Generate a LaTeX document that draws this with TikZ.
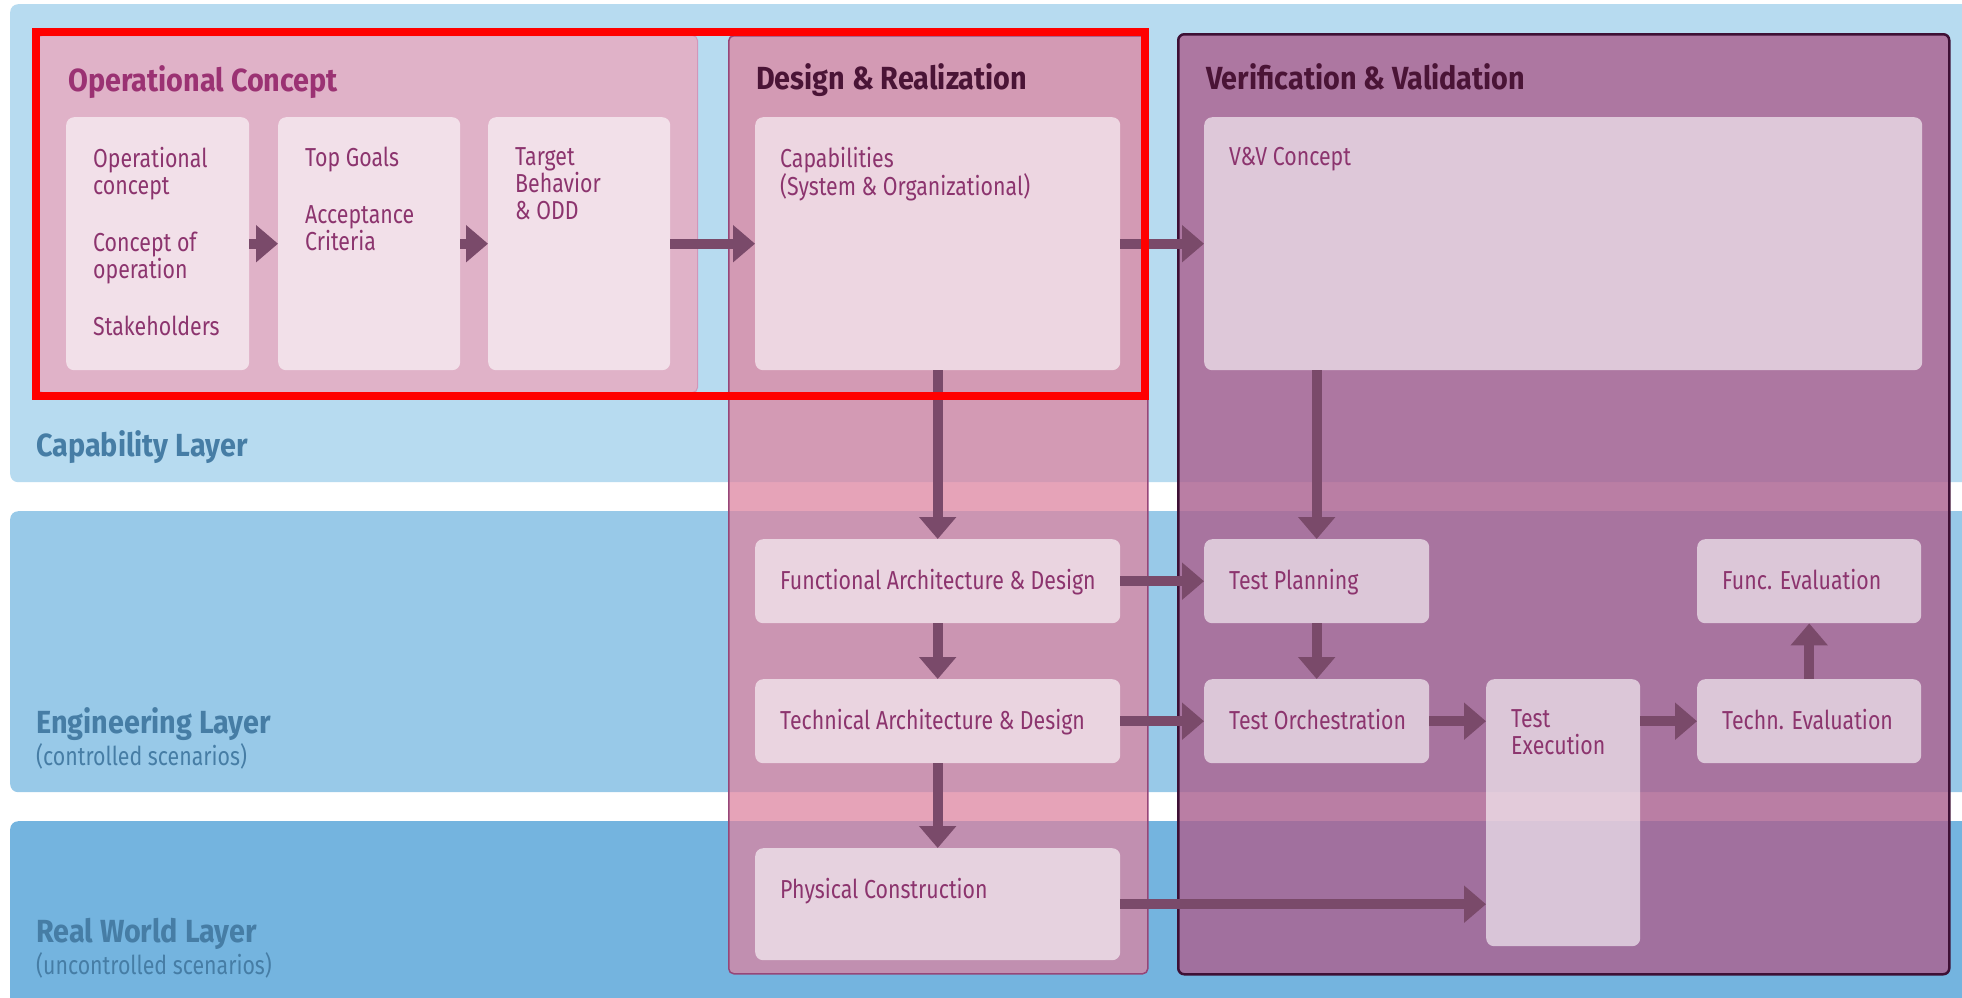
\documentclass[tikz,border=0pt]{standalone}
\usepackage{fontspec}
\setmainfont{Fira Sans}[FakeStretch=0.82, BoldFeatures={FakeStretch=0.9}]
\usepackage{tikz}
\usetikzlibrary{arrows.meta, positioning}
\definecolor{caplayer}{RGB}{183,219,240}
\definecolor{englayer}{RGB}{152,201,232}
\definecolor{reallayer}{RGB}{116,180,223}
\definecolor{layertext}{RGB}{70,125,165}
\definecolor{opfill}{RGB}{224,178,200}
\definecolor{opline}{RGB}{210,150,185}
\definecolor{designfill}{RGB}{222,130,159}
\definecolor{designline}{RGB}{150,70,120}
\definecolor{vvfill}{RGB}{172,98,144}
\definecolor{vvline}{RGB}{62,16,53}
\definecolor{boxtext}{RGB}{140,52,110}
\definecolor{optitle}{RGB}{155,50,115}
\definecolor{darktitle}{RGB}{74,20,54}
\definecolor{arrowcol}{RGB}{122,74,106}
\definecolor{markred}{RGB}{255,0,0}

\begin{document}
\begin{tikzpicture}[
    x=1pt, y=-1pt,
    layerband/.style={rectangle, rounded corners=8pt, inner sep=0pt, anchor=north west},
    layertitle/.style={anchor=base west, inner sep=0pt, text=layertext, font=\fontsize{32}{36}\selectfont\bfseries},
    layersub/.style={anchor=base west, inner sep=0pt, text=layertext, font=\fontsize{26}{28}\selectfont},
    panel/.style={rectangle, inner sep=0pt, anchor=north west},
    paneltitle/.style={inner sep=0pt, font=\fontsize{32}{35}\selectfont\bfseries},
    stepbox/.style={rectangle, rounded corners=8pt, fill=white, fill opacity=0.6, inner sep=0pt, anchor=north west},
    boxlabel/.style={inner sep=0pt, align=left, text=boxtext, font=\fontsize{26}{27}\selectfont},
    flow/.style={draw=arrowcol, line width=10pt, -{Triangle[length=22pt, width=36pt, fill=arrowcol]}}
]
\useasboundingbox (0,0) rectangle (1962,997);
\clip (0,0) rectangle (1962,997);
\fill[white] (0,0) rectangle (1962,997);

% Layers
\node[layerband, fill=caplayer, minimum width=1980pt, minimum height=478pt] (capband) at (10,4) {};
\node[layerband, fill=englayer, minimum width=1980pt, minimum height=281pt] (engband) at (10,511) {};
\node[layerband, fill=reallayer, minimum width=1980pt, minimum height=200pt] (realband) at (10,821) {};

\node[layertitle] (caplabel) at (36,456) {Capability Layer};
\node[layertitle] (englabel) at (36,733) {Engineering Layer};
\node[layersub] (engsub) at (36,765) {(controlled scenarios)};
\node[layertitle] (reallabel) at (36,942) {Real World Layer};
\node[layersub] (realsub) at (36,974) {(uncontrolled scenarios)};

% Columns
\node[panel, fill=opfill, draw=opline, line width=1pt, rounded corners=5pt, minimum width=660pt, minimum height=357pt] (oppanel) at (37,35) {};
\node[panel, fill=designfill, fill opacity=0.73, draw=designline, line width=1.5pt, rounded corners=5pt, minimum width=419pt, minimum height=938pt] (despanel) at (728,35) {};
\node[panel, fill=vvfill, fill opacity=0.82, draw=vvline, line width=2.5pt, rounded corners=6pt, minimum width=771pt, minimum height=940pt] (vvpanel) at (1177,33) {};

\node[paneltitle, text=optitle, below right=30pt and 31pt of oppanel.north west] (optitle) {Operational Concept};
\node[paneltitle, text=darktitle, below right=28pt and 28pt of despanel.north west] (destitle) {Design \& Realization};
\node[paneltitle, text=darktitle, below right=30pt and 29pt of vvpanel.north west] (vvtitle) {Verification \& Validation};

% Capability boxes
\node[stepbox, minimum width=183pt, minimum height=253pt] (ob1) at (66,117) {};
\node[stepbox, minimum width=182pt, minimum height=253pt] (ob2) at (278,117) {};
\node[stepbox, minimum width=182pt, minimum height=253pt] (ob3) at (488,117) {};
\node[stepbox, minimum width=365pt, minimum height=253pt] (cap) at (755,117) {};
\node[stepbox, minimum width=718pt, minimum height=253pt] (vvc) at (1204,117) {};

% Engineering and real world boxes
\node[stepbox, minimum width=365pt, minimum height=84pt] (fad) at (755,539) {};
\node[stepbox, minimum width=365pt, minimum height=84pt] (tad) at (755,679) {};
\node[stepbox, minimum width=365pt, minimum height=112pt] (phy) at (755,848) {};
\node[stepbox, minimum width=225pt, minimum height=84pt] (tpl) at (1204,539) {};
\node[stepbox, minimum width=225pt, minimum height=84pt] (tor) at (1204,679) {};
\node[stepbox, minimum width=154pt, minimum height=267pt] (tex) at (1486,679) {};
\node[stepbox, minimum width=224pt, minimum height=84pt] (tev) at (1697,679) {};
\node[stepbox, minimum width=224pt, minimum height=84pt] (fev) at (1697,539) {};

% Box texts
\node[boxlabel, below right=30pt and 27pt of ob1.north west] (ob1t) {Operational\\concept\\[30pt]Concept of\\operation\\[30pt]Stakeholders};
\node[boxlabel, below right=30pt and 27pt of ob2.north west] (ob2t) {Top Goals\\[30pt]Acceptance\\Criteria};
\node[boxlabel, below right=30pt and 27pt of ob3.north west] (ob3t) {Target\\Behavior\\\& ODD};
\node[boxlabel, below right=30pt and 25pt of cap.north west] (capt) {Capabilities\\(System \& Organizational)};
\node[boxlabel, below right=30pt and 25pt of vvc.north west] (vvct) {V\&V Concept};
\node[boxlabel, below right=30pt and 25pt of fad.north west] (fadt) {Functional Architecture \& Design};
\node[boxlabel, below right=30pt and 25pt of tad.north west] (tadt) {Technical Architecture \& Design};
\node[boxlabel, below right=30pt and 25pt of phy.north west] (phyt) {Physical Construction};
\node[boxlabel, below right=30pt and 25pt of tpl.north west] (tplt) {Test Planning};
\node[boxlabel, below right=30pt and 25pt of tor.north west] (tort) {Test Orchestration};
\node[boxlabel, below right=30pt and 25pt of tex.north west] (text) {Test\\Execution};
\node[boxlabel, below right=30pt and 25pt of tev.north west] (tevt) {Techn. Evaluation};
\node[boxlabel, below right=30pt and 25pt of fev.north west] (fevt) {Func. Evaluation};

% Flow
\draw[flow] (ob1) -- (ob2);
\draw[flow] (ob2) -- (ob3);
\draw[flow] (ob3) -- (cap);
\draw[flow] (cap) -- (vvc);
\draw[flow] (cap) -- (fad);
\draw[flow] (fad) -- (tad);
\draw[flow] (tad) -- (phy);
\draw[flow] (vvc.south -| tpl) -- (tpl);
\draw[flow] (fad) -- (tpl);
\draw[flow] (tad) -- (tor);
\draw[flow] (tpl) -- (tor);
\draw[flow] (tor.east) -- (tor.east -| tex.west);
\draw[flow] (tex.east |- tev) -- (tev);
\draw[flow] (tev) -- (fev);
\draw[flow] (phy.east) -- (phy.east -| tex.west);

% Highlight
\draw[markred, line width=8pt] (36,32) rectangle (1145,396);

\end{tikzpicture}
\end{document}
